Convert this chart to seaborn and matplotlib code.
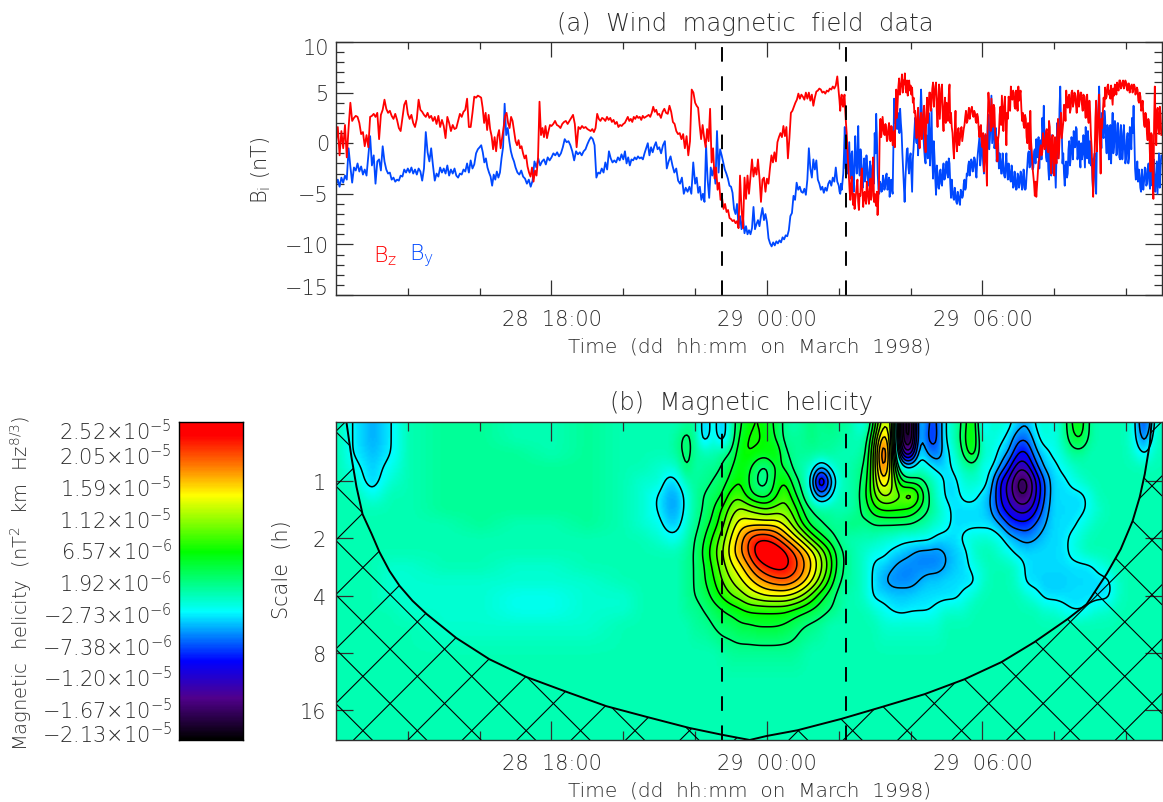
import matplotlib
matplotlib.use('Agg')
import matplotlib.pyplot as plt
from matplotlib.colors import LinearSegmentedColormap
from matplotlib.patches import Polygon
import numpy as np
import seaborn as sns

# Magnetic field components (nT), one row per hour starting at 28 March 12:00
bz_rows = [
    [0.1,1.6,-1.2,1.2,-0.5,1.8,-1.4,1.5,4.0,2.2,2.5,2.7,2.6,2.0,0.9,1.1,-0.3,0.8,-0.4,2.6],
    [2.7,2.9,2.6,3.0,0.4,2.8,3.3,4.3,3.4,3.0,3.2,2.7,2.4,2.9,2.3,1.5,1.2,2.5,3.8,4.2],
    [2.9,2.4,2.8,2.0,1.6,2.4,4.3,3.3,3.1,2.8,2.6,3.0,2.5,2.7,2.2,2.6,1.9,2.7,1.6,2.3],
    [1.7,0.5,2.6,2.0,1.2,1.8,1.4,1.5,2.2,2.9,2.6,3.1,3.3,4.4,1.6,1.6,3.0,4.6,4.5,4.7],
    [4.6,4.5,3.5,2.0,3.0,1.3,2.8,1.4,0.7,-0.6,0.6,-0.8,0.7,1.3,-0.5,0.5,1.5,2.7,3.0,2.0,1.5,2.6,2.2,1.2],
    [0.2,-0.2,0.3,-0.5,-0.3,-1.0,-1.5,-1.2,-2.3,-2.9,-3.3,-2.4,-3.8,-2.7,-3.2,-1.5,4.1,0.8,1.5,0.6,1.7,0.5,1.2,1.8],
    [1.7,1.9,2.2,1.8,1.7,1.5,1.9,2.1,2.2,1.9,2.2,2.5,2.8,1.9,-0.4,1.6,1.4,1.7,1.5,1.6],
    [1.4,1.3,1.2,1.4,1.1,1.5,2.9,2.4,2.2,2.5,2.4,2.2,2.6,2.3,2.5,2.1,2.3,1.9,2.1,1.6,1.8,1.7],
    [1.9,2.0,2.3,2.6,2.2,2.4,2.1,2.6,2.4,2.7,2.5,2.6,2.3,2.7,2.5,2.6,2.7,2.8,2.6,3.0,3.6,3.1,3.3,2.8],
    [2.9,2.5,3.1,3.4,3.0,2.9,3.7,3.1,2.1,1.9,1.2,0.9,1.0,0.4,0.9,-0.5,0.7,-1.2,0.2,5.3,5.0],
    [4.0,3.7,3.5,1.8,0.4,1.8,0.6,-0.4,1.4,0.2,3.4,-1.9,-0.5,-3.5,-2.4,-4.6,-3.9,-5.6,-5.4,-6.5,-6.0,-6.8,-6.6,-7.4],
    [-7.5,-7.7,-7.6,-7.9,-7.7,-8.4,-3.2,-6.5,-8.4,-3.4,-5.5,-3.2,-5.0,-3.3,-1.6,-3.3,-2.4,-3.1,-1.6,-3.4,-5.8,-3.6,-3.4,-4.8],
    [-3.5,-4.0,-2.5,-1.2,-1.9,-0.9,-1.8,0.1,0.6,1.0,0.6,1.7,0.7,1.6,-1.5,0.5,3.0,3.2,3.6,4.0,4.3,4.9,4.4,4.8],
    [4.6,4.3,5.0,4.4,5.0,4.2,4.8,3.7,4.5,5.1,5.2,5.4,5.3,5.0,5.1,4.9,5.2,5.1,5.4,5.3,5.6,5.4,5.7,6.6],
    [5.0,3.2,4.8,3.6,4.8,2.0,-0.5,-3.2,-5.6,-3.3,-6.1,-6.5,-5.0,-3.6,-6.6,-5.2,-2.5,-6.3,-4.8,-6.0,-4.4,-6.0,-3.5,-5.2,-1.4],
    [-5.0,-6.2,-7.1,-4.0,2.4,1.2,1.8,0.8,1.4,0.4,2.0,0.2,1.6,0.5,-0.4,5.3,4.0,6.4,5.5,6.8,6.2,6.9,5.0,4.7,6.2],
    [5.7,5.5,4.5,3.2,0.5,3.5,-0.5,3.0,1.0,3.7,-0.9,4.5,3.5,5.0,4.2,6.0,4.8,6.0,1.6,5.8,4.0,5.8,1.2,4.5],
    [4.0,2.2,5.8,3.0,1.0,-1.5,3.2,-0.8,1.5,0.4,1.6,0.8,1.8,3.2,2.2,3.5,3.0,3.6,2.6,3.0,2.0,2.6,0.6,1.8],
    [-0.4,-2.8,0.9,-4.2,5.0,3.0,4.4,1.6,3.5,-0.5,-1.8,1.0,3.6,4.7,1.2,4.6,-0.2,2.4,4.0,5.6,4.3,5.0,3.4,4.6],
    [5.6,4.8,3.5,3.0,1.5,2.4,0.0,1.5,3.2,-1.0,-3.2,-5.2,-5.3,-3.0,-1.6,-0.2,-0.9,0.4,-0.5,1.4,-0.9,1.6,-3.0,0.8],
    [-3.2,-1.0,1.0,-1.5,1.9,0.5,2.0,3.6,5.2,3.5,4.8,3.4,5.2,4.0,4.8,3.0,5.2,4.2,5.0,3.2,4.6,2.5,4.8,2.0],
    [3.0,-0.5,-5.3,-1.0,4.2,1.0,4.8,-3.0,1.5,4.5,5.5,4.6,5.8,5.2,5.7,3.8,4.7,5.6,6.0,5.2,6.2,5.6,6.2,5.7],
    [6.0,5.2,5.9,5.4,5.8,5.3,5.6,5.0,5.3,4.0,4.6,3.4,3.0,1.6,2.6,0.3,2.0,-2.8,0.8,-5.5,5.6,-0.2,3.5,0.9,2.8],
]
by_rows = [
    [-4.1,-3.6,-4.3,-3.4,-3.9,-3.2,-3.6,-0.5,-2.3,-3.9,-2.4,-2.7,-2.0,-2.8,-2.3,-3.1,-2.6,-3.2,-1.2,0.7],
    [-2.2,-1.2,-4.0,-1.8,-1.6,-2.7,-0.3,-1.8,-2.6,-3.0,-2.9,-3.6,-3.4,-3.8,-3.6,-3.7,-3.2,-3.3,-2.6,-2.9],
    [-2.5,-2.9,-2.4,-3.0,-2.6,-3.1,-2.5,-2.8,-3.7,-2.5,1.1,-0.9,-1.8,-0.5,-2.2,-3.7,-3.0,-3.3,-2.4,-2.9],
    [-2.5,-3.0,-2.2,-3.2,-2.6,-3.0,-2.5,-3.2,-3.4,-3.0,-3.1,-2.6,-2.8,-2.0,-2.9,-1.7,-2.5,-2.1,-1.0,-0.6],
    [-0.4,-0.2,-0.9,-1.9,-1.5,-2.4,-2.9,-3.3,-4.2,-3.1,-3.6,-2.8,-3.4,-2.9,-1.5,-0.4,3.9,0.8,1.5,0.2,-0.8,-1.4,-1.8],
    [-2.4,-2.9,-3.1,-2.7,-3.3,-3.5,-4.0,-3.6,-4.3,-3.7,-1.8,-2.4,-1.5,-2.2,-1.8,-1.6,-2.1,-1.4,-1.7],
    [-1.4,-1.0,-1.2,-0.9,-1.3,-1.0,-0.4,0.4,0.1,0.2,-0.2,-0.8,-1.7,-0.8,-1.1,-0.9,-1.2,-0.8,-0.6],
    [-0.1,0.3,0.6,0.4,-0.2,-3.4,-2.9,-3.0,-2.5,-2.9,-1.9,-2.6,-0.8,-1.5,-1.9,-1.7,-1.9,-1.4,-1.7,-1.1],
    [-1.6,-0.8,-2.0,-1.4,-2.2,-1.6,-1.7,-1.4,-1.6,-1.3,-1.5,-1.4,-1.6,-1.0,-0.5,0.0,-1.2,-0.4,-0.9,-0.3,0.1,-0.6],
    [-0.4,-1.0,-0.2,0.2,-2.5,-1.8,-1.3,-2.2,-2.9,-2.5,-3.7,-4.0,-3.4,-5.0,-4.4,-4.8,-4.3,-5.0,-1.9],
    [-4.0,-3.4,-4.9,-4.3,-5.6,-5.0,-5.8,-0.2,-3.6,-5.4,-2.4,-3.2,-2.4,-4.0,1.2,-2.9,-0.6,-1.2,-1.9,-2.6,-3.0,-3.5,-4.2],
    [-4.3,-4.9,-6.5,-7.0,-6.0,-8.3,-7.2,-8.5,-7.4,-8.9,-8.2,-9.0,-8.6,-9.0,-8.4,-6.3,-8.5,-8.0,-7.6,-8.2,-7.2,-6.4,-7.6,-7.0],
    [-7.8,-9.4,-9.9,-10.2,-9.8,-10.1,-9.7,-9.9,-9.6,-9.8,-9.3,-9.5,-9.1,-9.2,-8.6,-7.2,-6.9,-5.2,-5.6,-3.9,-4.6,-4.3,-4.8],
    [-4.9,-4.5,-5.1,-3.6,-0.5,-2.5,-3.4,-1.6,-2.6,-1.7,-3.6,-4.0,-4.6,-4.3,-4.9,-4.4,-4.7,-4.0,-3.7,-4.2,-3.4,-3.8,-2.4,-3.8],
    [-4.2,-5.0,-4.6,-3.0,1.6,-1.5,-3.0,0.1,-3.5,-0.8,-4.8,0.7,-3.0,1.7,-3.2,-1.3,-4.4,-1.5,-3.2,-2.3,-4.2,-1.8,-4.6,-2.0],
    [1.0,2.9,-3.0,-5.0,-4.0,-4.7,-3.6,-4.3,-3.0,-4.4,-5.3,-3.6,-5.0,4.4,2.0,1.4,2.6,3.4,1.0,-2.6,-5.8,-2.0,-0.5,-3.0],
    [-1.0,-4.8,-0.4,2.5,0.0,-1.2,1.6,5.3,2.5,-0.5,-2.0,0.4,3.0,-2.2,3.4,-3.5,-1.5,-5.1,-3.0,-4.5,-2.6,-4.2,-2.0,-3.5],
    [-1.8,-3.4,-2.0,-5.4,-4.6,-5.6,-5.0,-6.0,-5.2,-6.1,-4.8,-5.2,-3.6,-4.4,-3.2,-1.8,-2.6,-1.8,-2.4,-1.6,-3.4,-0.9,0.6,-1.5],
    [-0.4,-3.0,0.8,-0.5,2.8,0.4,4.7,1.2,-0.5,1.5,-1.0,-2.5,-1.6,-3.0,-2.2,-3.4,-1.0,-3.6,-2.6,-3.8,-3.0,-4.3,-3.5,-4.5],
    [-3.2,-4.0,-3.0,-4.4,-3.5,-4.5,-2.2,-0.8,-2.2,-1.4,-2.4,-0.6,0.4,-1.0,-2.5,0.3,2.5,3.7,1.0,-1.8,-2.5,0.5,-3.2,-1.2],
    [-0.5,-4.4,2.0,-1.0,5.6,1.5,-1.0,-4.2,-1.8,-3.0,0.2,-1.5,-0.1,1.2,-0.4,1.4,-1.0,-1.4,0.0,-1.0,-0.8,1.6,-1.5,0.0],
    [0.2,-1.5,-4.8,-1.0,-5.0,2.0,5.6,1.5,3.0,0.5,2.4,-1.0,1.4,-0.2,-2.0,3.0,-0.2,1.8,-1.0,1.2,-1.6,1.0,-0.6,0.4],
    [-1.5,1.0,-1.4,0.6,2.5,3.7,-2.5,-3.0,-3.8,-3.2,-4.8,-3.4,-3.8,-2.5,-4.0,-2.0,-4.5,-1.8,-3.0,-3.8,-3.2,-5.0,-1.0,-2.5],
]

# In-between samples for the turbulent part, from 29 March 02:00 on
FINE_FROM = 14
bz_fine_rows = [
    [4.2,4.4,3.8,4.4,3.2,1.0,-2.0,-4.6,-4.0,-5.2,-5.0,-5.6,-4.2,-5.8,-5.0,-3.4,-4.8,-5.2,-5.6,-3.8,-5.4,-4.6,-5.6,-3.0,-5.8],
    [-5.8,-4.8,-5.5,1.0,0.6,2.6,0.9,1.9,0.2,1.5,0.8,1.7,-0.2,1.2,3.0,2.5,5.6,4.8,6.0,5.0,5.8,5.4,6.2,5.6,5.2],
    [4.8,4.0,3.0,1.5,2.6,1.0,2.2,0.4,3.0,1.0,2.8,2.0,5.0,3.2,5.4,3.6,5.6,3.2,4.4,2.4,5.4,2.5,3.6,2.0],
    [3.0,4.8,2.0,1.6,-0.5,1.2,0.2,1.0,-0.2,1.2,0.2,1.4,2.6,2.0,3.0,2.4,3.4,2.8,3.2,2.2,2.9,1.4,1.6,0.2],
    [1.0,-1.0,-2.0,2.0,3.8,1.2,3.0,3.8,1.0,0.6,0.4,2.8,1.8,3.0,3.6,2.2,3.0,4.6,3.2,4.4,5.2,3.6,5.2,3.2],
    [4.2,5.2,2.2,1.8,2.8,0.6,2.0,-0.6,0.2,-2.4,-4.0,-3.8,-4.2,-1.8,-0.6,-1.2,1.0,-0.6,1.2,-0.8,2.2,-1.6,0.6,-1.8],
    [0.6,-2.0,2.4,0.2,3.0,1.2,3.8,2.2,4.0,4.6,3.0,5.0,3.6,5.0,3.8,4.6,3.6,5.0,3.8,4.8,3.4,4.6,2.6,4.2],
    [0.8,-3.0,-2.4,2.5,-0.8,3.2,0.0,2.4,3.2,3.6,4.4,5.6,4.8,4.4,4.8,5.4,5.8,4.8,5.4,6.2,5.4,6.0,5.4,6.2],
    [5.4,5.9,5.0,5.7,5.0,5.8,4.8,5.5,4.2,5.0,3.2,4.2,1.8,3.0,1.0,2.4,-0.8,1.0,-3.6,2.0,1.8,3.2,1.5,3.6,0.8],
]
by_fine_rows = [
    [-4.8,-4.0,-3.8,-1.0,-2.5,-0.5,-1.5,-2.6,-1.0,-3.6,-2.0,-1.8,-1.0,-2.4,-0.6,-3.2,-2.6,-3.8,-1.2,-3.8,-2.6,-3.6,-2.2,-4.0],
    [-1.0,0.5,-4.5,-3.8,-4.8,-3.2,-4.6,-3.2,-4.6,-3.4,-4.2,-4.6,0.0,2.0,3.4,3.0,1.0,2.0,-1.0,-4.0,-3.6,-0.6,-2.4,-1.4],
    [-2.8,-1.6,1.0,0.6,1.8,0.8,3.2,3.0,1.0,-1.5,0.8,-1.5,1.2,0.8,-1.5,0.2,-3.6,-2.2,-4.4,-2.8,-4.0,-2.8,-3.6,-2.4],
    [-3.0,-1.5,-4.0,-3.6,-5.4,-4.4,-5.8,-4.8,-5.8,-4.6,-5.4,-4.0,-4.6,-3.0,-2.2,-3.2,-1.6,-2.8,-1.4,-2.8,-1.8,-0.2,-2.2,0.6],
    [-2.0,0.5,-1.8,1.6,-0.6,2.6,0.0,2.5,0.2,-1.8,0.0,-1.0,-3.0,-1.0,-3.2,-2.0,-3.0,-2.0,-3.6,-2.2,-4.4,-2.8,-4.6,-3.0],
    [-4.4,-2.8,-4.6,-2.6,-4.6,-3.2,-1.0,-2.4,-0.4,-2.6,-0.8,-2.0,-1.4,0.6,-0.8,-1.6,1.0,0.4,-1.4,0.2,-3.6,-1.6,0.8,-3.0],
    [-2.6,-1.0,-1.5,3.4,2.0,-2.0,-3.0,-2.2,-3.4,-0.6,-2.2,0.6,-1.6,-0.4,1.6,-1.6,0.2,-2.4,-1.6,0.8,-2.4,-0.4,1.2,-2.0],
    [-2.2,-3.6,-1.6,-3.6,0.0,3.6,2.4,-0.5,0.8,3.2,0.2,1.8,-1.6,1.8,0.8,-1.0,2.2,-1.2,2.0,-1.4,1.8,-1.6,1.8,-2.0],
    [0.4,-2.0,1.6,-0.6,1.0,0.5,-3.6,-1.8,-2.6,-4.4,-2.6,-4.6,-2.4,-4.2,-2.6,-3.8,-2.6,-4.2,-1.6,-4.8,-1.8,-3.0,-4.4,-1.2],
]

shock_hours = [22.76, 26.19]

# Helicity map, 1e-6 nT^2 km Hz^(8/3), read at these hours and log2(scale)
map_hours = [12, 12.5, 13, 13.5, 14, 15, 16, 17, 18, 19, 20, 20.5, 21] + list(np.arange(21.25, 35.01, 0.25))
map_scales = [-1, -0.75, -0.5, -0.25, 0, 0.25, 0.5, 0.75, 1, 1.25, 1.5, 1.75, 2, 2.25, 2.5, 3, 3.5, 4, 4.5]
helicity = [
    [0,-3,-5,-3,0,1,1,0,0,1,0,0,0, 0,0,1,1,-5,-1,-5,0,4,6, 7,5,4,1,0,1,2,1,2,1, 1,-1,-2,5,14,12,-18,-22,-2,-8, -8,-2,0,3,8,-4,-1,-1,-2,-4, -5,-2,-1,-2,0,5,6,1,0,0, 0,0,-2,-9,-3,0],
    [0,-3,-5,-3,0,1,1,0,0,1,0,0,0, 0,1,3,1,-5,-1,-5,0,5,7, 7,6,4,1,1,1,2,1,1,1, 0,0,0,8,20,10,-18,-22,-2,-9, -8,-2,0,4,8,-2,-1,-2,-3.5,-7, -7,-3.5,-1,-2,0,4,5,1,0,0, 0,0,-2,-7,-2,0],
    [0,-3,-4.5,-3,0,1,1,1,0,1,0,0,0, 0,1,3,1,0,0,1,2,6,7, 6,6,7,2,1,1,1,1,1,0, 0,0,1,10,24,10,-13,-16,-2,-6, -7,-3.5,-1,3,7,-1,-1,-3.5,-5,-10, -10,-5,-3.5,-2,-1,1,1,0,0,0, 0,0,-1,-3.5,-1,0],
    [0,-2,-4,-2,0,1,1,1,1,1,0,0,-1, -1,-1,3,0,1,1,2,4,6,5, 2,1,5,4,1,0,-1,-5,-2,0, 0,1,2,10,22,10,-2,-3,-1,-2, -4,-3.5,-2,0,1,-2,-2,-5,-9,-14, -13,-8,-4,-3.5,-2,-1,0,0,0,0, 0,0,0,0,0,0],
    [0,-1,-4,-1,0,1,1,1,1,1,0,-1,-1, -4,-3,0,1,1,2,3,5,7,4, 1,1,5,7,3,1,-4,-16,-7,-1, 0,1,3,10,17,11,4,3,3,1, -1,-3.5,-3.5,-1,-1,-1,-4,-10,-13,-18, -18,-12,-7,-3.5,-3.5,-2,-1,0,0,0, 0,0,0,0,0,0],
    [0,0,-2,0,0,1,1,1,1,1,0,-1,-3, -5,-5,-2,1,2,3,4,8,8,5, 3,3,6,9,5,2,-2,-7,-3.5,0, 0,1,4,9,12,11,9,12,7,2, -1,-3.5,-3.5,-2,-2,-3.5,-5,-10,-13,-17, -17,-12,-7,-3.5,-3.5,-3.5,-3.5,-2,0,0, 0,0,0,0,0,0],
    [0,0,0,0,0,1,1,1,1,1,0,-1,-3, -5,-5,-2,1,2,4,7,10,12,11, 10,9,10,10,8,4,2,1,1,0, 0,1,3,6,7,7,7,6,4,2, 0,-2,-3.5,-3.5,-3.5,-3.5,-5,-9,-11,-13, -13,-10,-6,-3.5,-3.5,-3.5,-3.5,-2,-1,0, 0,0,0,0,0,0],
    [0,0,0,0,0,0,1,0,0,1,0,-1,-2, -4,-4,-1,1,3,5,8,12,15,15, 15,15,15,13,10,6,3,2,1,1, 2,2,1,2,2,2,2,2,1,0, -1,-2,-3.5,-3.5,-3.5,-3.5,-3.5,-5,-8,-9, -9,-7,-5,-3.5,-3.5,-3.5,-2,-1,0,0, 0,0,0,0,0,0],
    [0,0,0,0,0,0,0,0,0,0,0,0,-1, -2,-2,0,2,4,7,10,14,17,21, 23,23,21,18,15,12,8,5,3,1, 0,0,0,0,-1,-1,-2,-2,-2,-2, -3.5,-3.5,-3.5,-2,-1,-1,-1,-2,-4,-5, -6,-5,-4,-3.5,-3.5,-2,-1,0,0,0, 0,0,0,0,0,0],
    [0,0,0,0,0,0,0,0,0,0,0,0,0, 0,0,1,2,5,8,11,15,18,21, 25,26,26,24,21,18,15,11,7,3, 1,0,-1,-2,-2,-3.5,-4,-5,-6,-6, -6,-5,-4,-3.5,-1,0,0,-1,-2,-3.5, -3.5,-3.5,-3.5,-3.5,-3.5,-2,-1,0,0,0, 0,0,0,0,0,0],
    [0,0,0,-1,-1,0,0,-1,-1,0,0,0,0, 0,0,1,2,4,7,10,13,15,18, 21,23,24,24,22,19,16,12,8,3, 1,0,-1,-3.5,-4,-5,-6,-6,-6,-6, -6,-5,-4,-3.5,-2,-1,0,0,0,-1, -3.5,-3.5,-3.5,-3.5,-3.5,-3.5,-3.5,-3.5,-2,-1, 0,0,0,0,0,0],
    [0,0,0,-1,-1,-1,-1,-1,-1,-1,0,0,0, 0,0,1,2,4,6,9,11,13,15, 17,18.5,19.5,20,19,17,14,10,6,2, 1,0,-1,-3.5,-5,-6,-6,-6,-5,-4, -4,-3.5,-3.5,-3.5,-3.5,-1,0,0,0,-1, -3.5,-3.5,-4,-4,-4,-3.5,-3.5,-3.5,-3.5,-3.5, -1,0,0,0,0,0],
    [0,0,0,-1,-1,-1,-1,-2,-2,-1,-1,0,0, 0,0,1,2,3,5,7,9,10,12, 13,14,14,14,13,11,8,5,3,1, 0,0,-1,-3.5,-3.5,-4,-4,-4,-3.5,-3.5, -3.5,-3.5,-3.5,-2,-1,0,0,0,0,0, -1,-2,-3.5,-3.5,-3.5,-3.5,-3.5,-3.5,-3.5,-3.5, -1,0,0,0,0,0],
    [0,0,0,0,-1,-1,-1,-2,-2,-1,-1,0,0, 0,0,1,1,2,3,4,5,6,7, 7,7,7,7,6,5,4,3,2,1, 0,0,0,-1,-2,-3,-3.5,-3,-3,-3, -2,-1,-1,-1,0,0,0,0,0,0, 0,0,-1,-1,-2,-3,-3,-2,-1,-1, 0,0,0,0,0,0],
    [0,0,0,0,0,-1,-1,-1,-1,-1,0,0,0, 0,0,0,1,1,2,3,3,4,4, 4.5,4.5,4.5,4,3,2,1.5,1,0,0, 0,0,0,0,-1,-1,-1,-1,-1,-1, -1,0,0,0,0,0,0,0,0,0, 0,0,0,0,0,0,0,0,0,0, 0,0,0,0,0,0],
    [0,0,0,0,0,0,0,0,0,0,0,0,0, 0,0,0,0,0,0,0.5,1,1,1, 1,1,1,1,1,0.5,0,0,0,0, 0,0,0,0,0,0,0,0,0,0, 0,0,0,0,0,0,0,0,0,0, 0,0,0,0,0,0,0,0,0,0, 0,0,0,0,0,0],
    [0,0,0,0,0,0,0,0,0,0,0,0,0, 0,0,0,0,0,0,0,0,0,0, 0,0,0,0,0,0,0,0,0,0, 0,0,0,0,0,0,0,0,0,0, 0,0,0,0,0,0,0,0,0,0, 0,0,0,0,0,0,0,0,0,0, 0,0,0,0,0,0],
    [0,0,0,0,0,0,0,0,0,0,0,0,0, 0,0,0,0,0,0,0,0,0,0, 0,0,0,0,0,0,0,0,0,0, 0,0,0,0,0,0,0,0,0,0, 0,0,0,0,0,0,0,0,0,0, 0,0,0,0,0,0,0,0,0,0, 0,0,0,0,0,0],
    [0,0,0,0,0,0,0,0,0,0,0,0,0, 0,0,0,0,0,0,0,0,0,0, 0,0,0,0,0,0,0,0,0,0, 0,0,0,0,0,0,0,0,0,0, 0,0,0,0,0,0,0,0,0,0, 0,0,0,0,0,0,0,0,0,0, 0,0,0,0,0,0],
]

# Cone of influence, hour and log2(scale)
coi_hours = [12.29,12.43,12.57,12.74,12.99,13.21,13.49,13.77,14.13,14.52,15.35,16.27,17.30,18.42,19.53,20.67,21.84,22.76,23.52,
             23.99,24.85,26.08,27.22,28.39,29.50,30.53,31.45,32.37,32.90,33.46,33.85,34.18,34.38,34.52,34.66,34.71]
coi_scales = [-1.03,-0.42,0.10,0.58,0.92,1.24,1.57,1.83,2.09,2.32,2.74,3.11,3.42,3.68,3.93,4.12,4.31,4.43,4.52,
              4.45,4.35,4.15,3.94,3.72,3.46,3.16,2.81,2.41,2.15,1.62,1.19,0.70,0.28,-0.12,-0.65,-1.03]

contour_levels = [-21, -19, -16.7, -14.4, -12, -9.7, -7.38, -5.05, -2.73,
                  1.92, 4.25, 6.57, 8.9, 11.2, 13.6, 15.9, 18.2, 20.5, 22.9]
cbar_labels = ['2.05', '1.59', '1.12', '6.57', '1.92', '\u22122.73', '\u22127.38', '\u22121.20', '\u22121.67']
cbar_exps = [-5, -5, -5, -6, -6, -6, -6, -5, -5]

VMIN, VMAX = -21.3, 25.2
W, H = 1163, 803
TEXT = '#2c2c2c'

sns.set_theme(style='white')
plt.rcParams['font.family'] = ['DejaVu Sans']
plt.rcParams['font.weight'] = 'light'
plt.rcParams['mathtext.default'] = 'regular'
plt.rcParams['axes.linewidth'] = 1.0
plt.rcParams['axes.edgecolor'] = '#303030'

helicity_cmap = LinearSegmentedColormap.from_list('helicity', [
    (0.0, '#000000'), (0.13, '#50008c'), (0.246, '#0000ff'), (0.403, '#00ffff'),
    (0.458, '#00ffb4'), (0.592, '#00ff00'), (0.771, '#ffff00'), (0.866, '#ff7800'),
    (0.96, '#ff0000'), (1.0, '#ff0000')])


def add_axes(left, top, right, bottom):
    return fig.add_axes([left / W, 1 - bottom / H, (right - left) / W, (bottom - top) / H])


def put_text(x, y, s, **kwargs):
    kwargs.setdefault('ha', 'center')
    kwargs.setdefault('va', 'center')
    kwargs.setdefault('fontsize', 15)
    kwargs.setdefault('color', TEXT)
    fig.text(x / W, 1 - y / H, s, **kwargs)


def hour_axis(ax, major, minor):
    ax.set_xlim(12, 35)
    ax.set_xticks([18, 24, 30])
    ax.set_xticks([14, 16, 20, 22, 26, 28, 32, 34], minor=True)
    ax.set_xticklabels([])
    ax.tick_params(axis='x', which='major', direction='in', length=major, width=0.9,
                   top=True, bottom=True, color='#303030')
    ax.tick_params(axis='x', which='minor', direction='in', length=minor, width=0.9,
                   top=True, bottom=True, color='#303030')


def join_rows(rows, fine_rows):
    # Interleave the in-between samples into each hour that has them
    times, values = [], []
    for i, row in enumerate(rows):
        if i >= FINE_FROM:
            fine = fine_rows[i - FINE_FROM]
            n = min(len(row), len(fine))
            row = np.column_stack([row[:n], fine[:n]]).ravel()
        times.append(np.linspace(12 + i, 13 + i, len(row), endpoint=False))
        values.append(row)
    return np.concatenate(times), np.concatenate(values)


def smooth(field):
    # Linear resample of the read grid, then box passes so contours stay round
    fine_h = np.linspace(12, 35, 460)
    fine_s = np.linspace(-1.03, 4.52, 220)
    by_col = np.array([np.interp(fine_h, map_hours, row) for row in field])
    out = np.array([np.interp(fine_s, map_scales, col) for col in by_col.T]).T
    for axis, size in [(1, 5), (0, 9), (1, 5), (0, 9)]:
        kernel = np.ones(size) / size
        pad = [(0, 0), (0, 0)]
        pad[axis] = (size // 2, size // 2)
        padded = np.pad(out, pad, mode='edge')
        out = np.apply_along_axis(lambda v: np.convolve(v, kernel, mode='valid'), axis, padded)
    return fine_h, fine_s, out


fig = plt.figure(figsize=(W / 100, H / 100), dpi=100)

# Panel (a)
ax_b = add_axes(336, 43, 1162, 296)
for rows, fine_rows, color in [(by_rows, by_fine_rows, '#0048ff'), (bz_rows, bz_fine_rows, '#ff0000')]:
    t, v = join_rows(rows, fine_rows)
    sns.lineplot(x=t, y=v, color=color, lw=1.3, estimator=None, errorbar=None, sort=False, ax=ax_b)
for h in shock_hours:
    ax_b.axvline(h, color='black', lw=1.4, ls=(0, (7.5, 7.5)))
hour_axis(ax_b, 11, 5)
ax_b.set_ylim(-15, 10)
ax_b.set_yticks([-15, -10, -5, 0, 5, 10])
ax_b.set_yticks(np.arange(-15, 11), minor=True)
ax_b.set_yticklabels([])
ax_b.tick_params(axis='y', which='major', direction='in', length=12, width=0.9, left=True, right=True, color='#303030')
ax_b.tick_params(axis='y', which='minor', direction='in', length=6, width=0.9, left=True, right=True, color='#303030')

for y, s in [(49, '10'), (95, '5'), (145, '0'), (196, '\u22125'), (247, '\u221210'), (289, '\u221215')]:
    put_text(329, y, s, ha='right')
put_text(745, 24, '(a)  Wind  magnetic  field  data', fontsize=17.5)
put_text(261, 170, 'B$_i$ (nT)', rotation=90)
put_text(552, 320, '28  18:00')
put_text(767, 320, '29  00:00')
put_text(983, 320, '29  06:00')
put_text(749, 347, 'Time  (dd  hh:mm  on  March  1998)', fontsize=14.5)
put_text(385, 256, 'B$_z$', color='#ff0000', fontsize=16)
put_text(422, 256, 'B$_y$', color='#0048ff', fontsize=16)

# Panel (b)
ax_m = add_axes(336, 423, 1162, 741)
fine_h, fine_s, field = smooth(helicity)
ax_m.imshow(field, extent=[12, 35, 4.52, -1.03], origin='upper', aspect='auto',
            cmap=helicity_cmap, vmin=VMIN, vmax=VMAX, interpolation='bilinear')
ax_m.contour(fine_h, fine_s, field, levels=contour_levels, colors='black',
             linewidths=1.1, linestyles='solid')
for h in shock_hours:
    ax_m.axvline(h, color='black', lw=1.4, ls=(0, (7.5, 7.5)))

ax_m.plot(coi_hours, coi_scales, color='black', lw=1.4)
mask = Polygon(list(zip(coi_hours, coi_scales)) + [(35, -1.03), (35, 4.52), (12, 4.52), (12, -1.03)],
               closed=True, transform=ax_m.transData, facecolor='none', edgecolor='none')
ax_m.add_patch(mask)
# Cross hatch at 45 degrees on screen, 54.4 px apart
slope = 35.9 / 57.3
px_h = np.array([12.0, 35.0])
for k in range(-16, 6):
    c = (205 + 54.4 * k + 552 - 482) / 57.3
    line, = ax_m.plot(px_h, slope * (px_h - 18) + c, color='black', lw=0.8)
    line.set_clip_path(mask)
for k in range(-4, 22):
    c = (932 + 54.4 * k - 552 - 482) / 57.3
    line, = ax_m.plot(px_h, -slope * (px_h - 18) + c, color='black', lw=0.8)
    line.set_clip_path(mask)

hour_axis(ax_m, 13.5, 6.5)
ax_m.set_ylim(4.52, -1.03)
ax_m.set_yticks([0, 1, 2, 3, 4])
ax_m.set_yticklabels(['1', '2', '4', '8', '16'], fontsize=15, color=TEXT)
ax_m.tick_params(axis='y', direction='in', length=12, width=0.9, left=True, right=True, pad=7, color='#303030')

put_text(742, 403, '(b)  Magnetic  helicity', fontsize=17.5)
put_text(282, 570, 'Scale  (h)', rotation=90)
put_text(552, 764, '28  18:00')
put_text(767, 764, '29  00:00')
put_text(983, 764, '29  06:00')
put_text(749, 791, 'Time  (dd  hh:mm  on  March  1998)', fontsize=14.5)

# Colour bar
ax_c = add_axes(179, 423, 243, 741)
sns.heatmap(np.linspace(VMAX, VMIN, 318)[:, None], cmap=helicity_cmap, vmin=VMIN, vmax=VMAX,
            cbar=False, xticklabels=False, yticklabels=False, ax=ax_c)
for spine in ax_c.spines.values():
    spine.set_visible(True)
    spine.set_linewidth(1.0)
    spine.set_color('black')
ax_c.set_yticks(np.arange(1, 10) * 31.8)
ax_c.set_yticklabels([])
ax_c.tick_params(axis='y', direction='in', length=2, width=0.8, left=True, right=True, color='#303030')

put_text(172, 432, '2.52$\\times$10$^{-5}$', ha='right')
for i, (s, e) in enumerate(zip(cbar_labels, cbar_exps)):
    put_text(172, 457 + i * 31.7, f'{s}$\\times$10$^{{{e}}}$', ha='right')
put_text(172, 735, '\u22122.13$\\times$10$^{-5}$', ha='right')
put_text(21, 583, 'Magnetic  helicity  (nT$^2$  km  Hz$^{8/3}$)', rotation=90, fontsize=14)

fig.savefig('out.png', dpi=100)
